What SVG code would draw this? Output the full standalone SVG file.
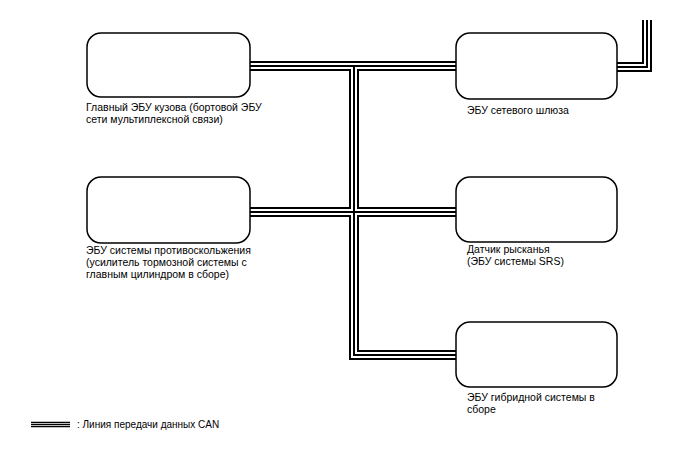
<svg xmlns="http://www.w3.org/2000/svg" width="688" height="463" viewBox="0 0 688 463">
<style>
.box{fill:#fff;stroke:#000;stroke-width:1.5}
.t{font-family:"Liberation Sans",Arial,sans-serif;font-size:10.5px;fill:#000}
.b1{fill:none;stroke:#000;stroke-width:10;stroke-linejoin:miter}
.b2{fill:none;stroke:#fff;stroke-width:6;stroke-linejoin:miter}
.b3{fill:none;stroke:#000;stroke-width:2;stroke-linejoin:miter}
.lg{stroke:#000;stroke-width:1.3}
</style>
<defs>
<path id="bus" d="M250 66 H456 M354 66 V355 H456 M250 212 H456 M617 67 H647 V20"/>
</defs>
<g id="connectors">
<use href="#bus" class="b1"/>
<use href="#bus" class="b2"/>
<use href="#bus" class="b3"/>
</g>
<g id="node-body-ecu">
<rect class="box" x="87" y="33" width="163" height="64" rx="14"/>
<text class="t" x="86" y="111">Главный ЭБУ кузова (бортовой ЭБУ</text>
<text class="t" x="86" y="123">сети мультиплексной связи)</text>
</g>
<g id="node-gateway">
<rect class="box" x="456" y="33" width="161" height="66" rx="14"/>
<text class="t" x="467" y="114">ЭБУ сетевого шлюза</text>
</g>
<g id="node-abs">
<rect class="box" x="87" y="177" width="163" height="66" rx="14"/>
<text class="t" x="86" y="254">ЭБУ системы противоскольжения</text>
<text class="t" x="86" y="266">(усилитель тормозной системы с</text>
<text class="t" x="86" y="278">главным цилиндром в сборе)</text>
</g>
<g id="node-yaw">
<rect class="box" x="456" y="177" width="161" height="65" rx="14"/>
<text class="t" x="467" y="253">Датчик рысканья</text>
<text class="t" x="467" y="265">(ЭБУ системы SRS)</text>
</g>
<g id="node-hybrid">
<rect class="box" x="456" y="322" width="161" height="65" rx="14"/>
<text class="t" x="467" y="401">ЭБУ гибридной системы в</text>
<text class="t" x="467" y="412.5">сборе</text>
</g>
<g id="legend">
<line class="lg" x1="31" y1="422.3" x2="70" y2="422.3"/>
<line class="lg" x1="31" y1="424.5" x2="70" y2="424.5"/>
<line class="lg" x1="31" y1="426.7" x2="70" y2="426.7"/>
<text class="t" x="77" y="428" style="font-size:10px">: Линия передачи данных CAN</text>
</g>
</svg>
